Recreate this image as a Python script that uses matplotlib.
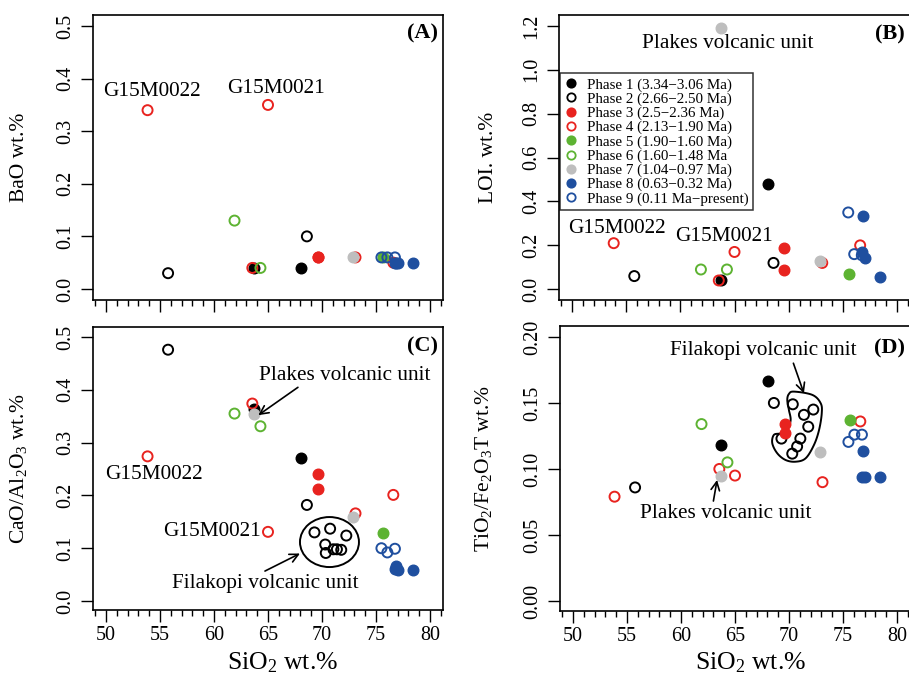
import numpy as np
import matplotlib
matplotlib.use('Agg')
import matplotlib.pyplot as plt
from matplotlib.lines import Line2D
from matplotlib.patches import Ellipse, Polygon

plt.rcParams['font.family'] = ['Liberation Serif', 'DejaVu Serif']
plt.rcParams['mathtext.fontset'] = 'custom'
plt.rcParams['mathtext.rm'] = 'Liberation Serif'
plt.rcParams['mathtext.it'] = 'Liberation Serif:italic'

# one entry per sample (nan = not measured)
phase = [1, 1, 2, 2, 2, 2, 2, 2, 2, 2, 2, 2, 3, 3,
         4, 4, 4, 4, 4, 5, 6, 6, 7, 7, 8, 8, 8, 8, 9, 9, 9]
sio2 = [63.75, 68.05, 55.75, 68.6, 69.3, 70.3, 70.35, 70.75, 71.05, 71.38, 71.78, 72.25, 69.6, 69.6,
        53.85, 63.55, 65.0, 73.1, 76.6, 75.6, 61.9, 64.3, 63.75, 72.9, 76.85, 76.75, 77.0, 78.45,
        75.5, 76.05, 76.75]
bao = [0.04, 0.04, 0.03, 0.10, np.nan, np.nan, np.nan, np.nan, np.nan, np.nan, np.nan, np.nan, 0.06, 0.06,
       0.34, 0.04, 0.35, 0.06, 0.05, 0.06, 0.13, 0.04, np.nan, 0.06, 0.05, 0.05, 0.05, 0.05,
       0.06, 0.06, 0.06]
loi = [0.04, 0.48, 0.06, 0.12, np.nan, np.nan, np.nan, np.nan, np.nan, np.nan, np.nan, np.nan, 0.19, 0.09,
       0.21, 0.04, 0.17, 0.12, 0.20, 0.07, 0.09, 0.09, 1.19, 0.13, 0.332, 0.171, 0.141, 0.058,
       0.35, 0.16, 0.155]
cao_al2o3 = [0.364, 0.271, 0.476, 0.182, 0.130, 0.107, 0.091, 0.137, 0.098, 0.098, 0.097, 0.124, 0.240, 0.213,
             0.274, 0.374, 0.131, 0.166, 0.201, 0.129, 0.355, 0.331, 0.354, 0.159, 0.066, 0.061, 0.058, 0.059,
             0.100, 0.092, 0.099]
tio2_fe2o3 = [0.118, 0.167, 0.086, 0.150, 0.123, 0.1116, 0.149, 0.117, 0.123, 0.141, 0.132, 0.145, 0.1338, 0.1275,
              0.079, 0.100, 0.095, 0.090, 0.136, 0.137, 0.134, 0.105, 0.095, 0.113, 0.1136, 0.094, 0.094, 0.094,
              0.1205, 0.126, 0.126]

phase_labels = ['Phase 1 (3.34\u22123.06 Ma)', 'Phase 2 (2.66\u22122.50 Ma)', 'Phase 3 (2.5\u22122.36 Ma)',
                'Phase 4 (2.13\u22121.90 Ma)', 'Phase 5 (1.90\u22121.60 Ma)', 'Phase 6 (1.60\u22121.48 Ma',
                'Phase 7 (1.04\u22120.97 Ma)', 'Phase 8 (0.63\u22120.32 Ma)', 'Phase 9 (0.11 Ma\u2212present)']

# outline drawn round the Filakopi samples in panel D
filakopi_x = [70.46, 72.16, 72.93, 73.03, 72.78, 72.31, 71.54, 70.61, 69.68, 68.91, 68.45, 68.6,
              69.22, 69.84, 70.15, 69.99, 69.84, 69.99]
filakopi_y = [0.1586, 0.1561, 0.1498, 0.1422, 0.1295, 0.1182, 0.1081, 0.1055, 0.1068, 0.1119, 0.1195,
              0.1258, 0.127, 0.130, 0.137, 0.1447, 0.1523, 0.1568]

black = '#000000'
red = '#e8231f'
green = '#5db332'
grey = '#bebebe'
blue = '#1f4f9f'
# (colour, filled?) for phases 1..9
styles = [(black, True), (black, False), (red, True), (red, False), (green, True),
          (green, False), (grey, True), (blue, True), (blue, False)]

W, H = 909, 680
fig = plt.figure(figsize=(W / 100, H / 100), dpi=100)


def make_ax(l, r, t, b):
    return fig.add_axes([l / W, 1 - b / H, (r - l) / W, (b - t) / H])


axA = make_ax(93, 443, 15, 300)
axB = make_ax(559, 910, 15, 300)
axC = make_ax(93, 443, 327, 610)
axD = make_ax(560, 910, 326, 611)

phase = np.array(phase)
sio2 = np.array(sio2)


def draw(ax, vals):
    vals = np.array(vals)
    for p in range(1, 10):
        col, filled = styles[p - 1]
        m = (phase == p) & ~np.isnan(vals)
        if filled:
            ax.scatter(sio2[m], vals[m], s=58, color=col, edgecolors=col, linewidths=1.0, zorder=3)
        else:
            ax.scatter(sio2[m], vals[m], s=52, facecolors='none', edgecolors=col, linewidths=1.4, zorder=3)


def style_ax(ax, ylim, yticks, ylabels, xlabels):
    ax.set_xlim(48.8, 81.2)
    ax.set_ylim(*ylim)
    ax.set_xticks(np.arange(50, 81, 5))
    ax.set_xticks(np.arange(49, 82, 1), minor=True)
    ax.set_yticks(yticks)
    ax.set_yticklabels(ylabels, rotation=90, va='center')
    if xlabels:
        ax.set_xticklabels([str(v) for v in range(50, 81, 5)])
    else:
        ax.set_xticklabels([])
    ax.tick_params(axis='x', which='major', length=8.5, width=1.0, labelsize=14.5, pad=3)
    ax.tick_params(axis='x', which='minor', length=4.5, width=1.0)
    ax.tick_params(axis='y', length=9, width=1.0, labelsize=14.5, pad=4)
    for s in ax.spines.values():
        s.set_linewidth(1.2)


draw(axA, bao)
draw(axB, loi)
draw(axC, cao_al2o3)
draw(axD, tio2_fe2o3)

style_ax(axA, (-0.021, 0.521), [0, 0.1, 0.2, 0.3, 0.4, 0.5],
         ['0.0', '0.1', '0.2', '0.3', '0.4', '0.5'], False)
style_ax(axB, (-0.049, 1.25), [0, 0.2, 0.4, 0.6, 0.8, 1.0, 1.2],
         ['0.0', '0.2', '0.4', '0.6', '0.8', '1.0', '1.2'], False)
style_ax(axC, (-0.017, 0.519), [0, 0.1, 0.2, 0.3, 0.4, 0.5],
         ['0.0', '0.1', '0.2', '0.3', '0.4', '0.5'], True)
style_ax(axD, (-0.0076, 0.2083), [0, 0.05, 0.10, 0.15, 0.20],
         ['0.00', '0.05', '0.10', '0.15', '0.20'], True)

# axis labels
for ax, lab, lx in [(axA, 'BaO wt.%', -0.209), (axB, 'LOI. wt.%', -0.202),
                    (axC, 'CaO/Al$_2$O$_3$ wt.%', -0.214), (axD, 'TiO$_2$/Fe$_2$O$_3$T wt.%', -0.218)]:
    ax.set_ylabel(lab, fontsize=15.5)
    ax.yaxis.set_label_coords(lx, 0.5)
    ax.yaxis.label.set_va('center')
for ax, lx, ly in [(axC, 0.543, -0.186), (axD, 0.545, -0.182)]:
    ax.set_xlabel('SiO$_2$ wt.%', fontsize=18.5)
    ax.xaxis.set_label_coords(lx, ly)
    ax.xaxis.label.set_va('center')

# panel letters
for ax, lab, y in [(axA, '(A)', 0.935), (axB, '(B)', 0.93), (axC, '(C)', 0.93), (axD, '(D)', 0.92)]:
    ax.text(0.985, y, lab, transform=ax.transAxes, ha='right', va='center',
            fontsize=16, fontweight='bold')

fs = 15.3
# (A)
axA.text(54.23, 0.375, 'G15M0022', ha='center', va='center', fontsize=fs)
axA.text(65.74, 0.382, 'G15M0021', ha='center', va='center', fontsize=fs)

# (B)
axB.text(64.42, 1.121, 'Plakes volcanic unit', ha='center', va='center', fontsize=fs)
axB.text(54.11, 0.278, 'G15M0022', ha='center', va='center', fontsize=fs)
axB.text(64.05, 0.24, 'G15M0021', ha='center', va='center', fontsize=fs)
handles = []
for col, filled in styles:
    handles.append(Line2D([], [], linestyle='none', marker='o', markersize=6,
                          markerfacecolor=col if filled else 'none', markeredgecolor=col,
                          markeredgewidth=1.3))
leg = axB.legend(handles, phase_labels, loc='upper left', bbox_to_anchor=(0.003, 0.795),
                 fontsize=10.8, frameon=True, fancybox=False, edgecolor='black',
                 handlelength=0.8, handletextpad=0.7, labelspacing=0.04, borderpad=0.3,
                 borderaxespad=0)
leg.get_frame().set_linewidth(1.1)
leg.set_zorder(5)

# (C)
axC.text(54.44, 0.239, 'G15M0022', ha='center', va='center', fontsize=fs)
axC.text(64.3, 0.131, 'G15M0021', ha='right', va='center', fontsize=fs)
axC.annotate('Plakes volcanic unit', xy=(64.1, 0.352), xytext=(72.13, 0.428),
             ha='center', va='center', fontsize=fs,
             arrowprops=dict(arrowstyle='->', color='black', lw=1.2, shrinkA=0, shrinkB=0,
                             relpos=(0.28, 0.2)))
axC.add_patch(Ellipse((70.69, 0.1117), 5.46, 0.0947, fill=False, edgecolor='black', lw=1.4, zorder=2))
axC.annotate('Filakopi volcanic unit', xy=(67.96, 0.090), xytext=(64.72, 0.0335),
             ha='center', va='center', fontsize=fs,
             arrowprops=dict(arrowstyle='->', color='black', lw=1.2, shrinkA=0, shrinkB=0,
                             relpos=(0.45, 0.9)))


# (D) smooth closed outline through the traced points
def closed_spline(xs, ys, n=12):
    pts = np.column_stack([xs, ys])
    k = len(pts)
    out = []
    for i in range(k):
        p0, p1, p2, p3 = pts[(i - 1) % k], pts[i], pts[(i + 1) % k], pts[(i + 2) % k]
        for t in np.linspace(0, 1, n, endpoint=False):
            t2, t3 = t * t, t * t * t
            out.append(0.5 * (2 * p1 + (-p0 + p2) * t + (2 * p0 - 5 * p1 + 4 * p2 - p3) * t2
                              + (-p0 + 3 * p1 - 3 * p2 + p3) * t3))
    return np.array(out)


axD.add_patch(Polygon(closed_spline(filakopi_x, filakopi_y), closed=True, fill=False,
                      edgecolor='black', lw=1.4, zorder=2))
axD.annotate('Filakopi volcanic unit', xy=(71.38, 0.1573), xytext=(67.6, 0.1894),
             ha='center', va='center', fontsize=fs,
             arrowprops=dict(arrowstyle='->', color='black', lw=1.2, shrinkA=0, shrinkB=0,
                             relpos=(0.65, 0.2)))
axD.annotate('Plakes volcanic unit', xy=(63.34, 0.0917), xytext=(64.18, 0.0664),
             ha='center', va='center', fontsize=fs,
             arrowprops=dict(arrowstyle='->', color='black', lw=1.2, shrinkA=0, shrinkB=0,
                             relpos=(0.42, 0.85)))

fig.savefig('out.png', dpi=100)
